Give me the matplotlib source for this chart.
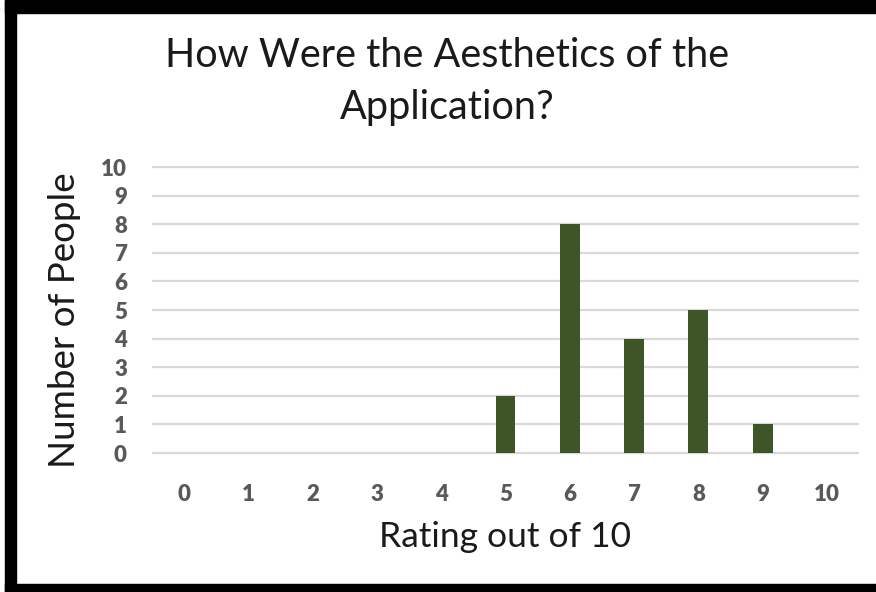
import matplotlib.pyplot as plt
from matplotlib.patches import Rectangle

ratings = [0, 1, 2, 3, 4, 5, 6, 7, 8, 9, 10]
people = [0, 0, 0, 0, 0, 2, 8, 4, 5, 1, 0]
y_ticks = [0, 1, 2, 3, 4, 5, 6, 7, 8, 9, 10]

plt.rcParams['font.family'] = ['Lato', 'DejaVu Sans']

fig = plt.figure(figsize=(8.76, 5.92), dpi=100)
W, H = 876, 592

# plot area in pixels
ax = fig.add_axes([152 / W, 0.2299, 707 / W, 0.4927])
ax.bar(ratings, people, width=0.31, color='#3e5528', zorder=3)
ax.set_xlim(-0.5, 10.5)
ax.set_ylim(-0.1, 10.1)
ax.set_yticks(y_ticks)
ax.set_xticks(ratings)
ax.grid(axis='y', color='#d9d9d9', linewidth=1.6, zorder=0)
for s in ax.spines.values():
    s.set_visible(False)
ax.tick_params(length=0, labelsize=16, labelcolor='#595959')
ax.tick_params(axis='x', pad=20)
ax.tick_params(axis='y', pad=18)
for lab in ax.get_xticklabels() + ax.get_yticklabels():
    lab.set_fontweight('heavy')

fig.text(0.51, 1 - 37 / H, 'How Were the Aesthetics of the\nApplication?',
         ha='center', va='top', fontsize=28.5, color='#1a1a1a', linespacing=1.5)
fig.text(505 / W, 1 - 537 / H, 'Rating out of 10', ha='center', va='center',
         fontsize=25.5, color='#1a1a1a')
fig.text(65 / W, 1 - 320 / H, 'Number of People', ha='center', va='center',
         rotation=90, fontsize=26.5, color='#1a1a1a')

# black frame around the chart
fig.patches.append(Rectangle((5 / W, 0), 11 / W, 1, transform=fig.transFigure,
                             color='black', zorder=10))
fig.patches.append(Rectangle((5 / W, 1 - 13 / H), 1, 13 / H,
                             transform=fig.transFigure, color='black', zorder=10))
fig.patches.append(Rectangle((5 / W, 0), 1, 8 / H, transform=fig.transFigure,
                             color='black', zorder=10))

fig.savefig('out.png', dpi=100)
